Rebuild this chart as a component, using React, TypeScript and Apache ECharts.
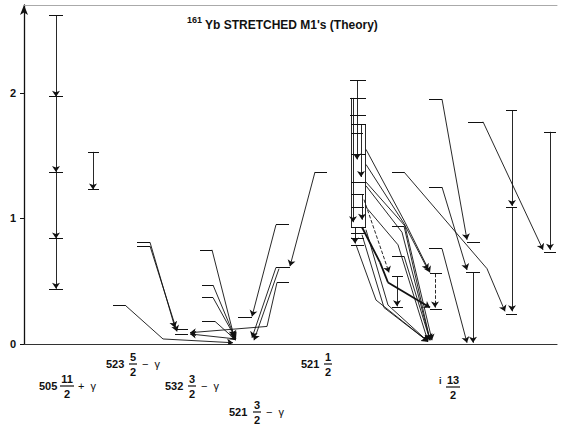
import React, { useEffect, useRef } from 'react';
import * as echarts from 'echarts';

const TITLE_MASS = '161';
const TITLE_TEXT = "Yb STRETCHED M1's (Theory)";
const Y_TICKS = [0, 1, 2];

// level stubs: [xStart, xEnd, M1 strength]
const levelStubs: [number, number, number][] = [
  // 505 11/2 + γ
  [49, 63, 2.62], [49, 63, 1.97], [49, 63, 1.37], [49, 63, 0.84], [49, 63, 0.44],
  [88, 99, 1.53], [88, 99, 1.23],
  // 523 5/2 − γ, 532 3/2 − γ, 521 3/2 − γ
  [113, 125, 0.31], [137, 150, 0.81], [137, 150, 0.78], [175, 188, 0.12], [175, 188, 0.08],
  [200, 212, 0.75], [202, 213, 0.47], [202, 213, 0.37], [202, 215, 0.18],
  [238, 252, 0.21], [276, 289, 0.95], [276, 290, 0.61], [277, 289, 0.49], [315, 327, 1.37],
  // 521 1/2
  [350, 366, 2.10], [350, 366, 1.96], [350, 366, 1.82], [351, 366, 1.75], [351, 363, 1.68],
  [351, 366, 1.51], [351, 366, 1.29], [351, 364, 1.19], [351, 364, 1.09], [351, 366, 0.93],
  [351, 366, 0.88], [351, 364, 0.84], [351, 364, 0.79],
  [392, 404, 1.37], [392, 404, 0.94], [392, 404, 0.70], [392, 403, 0.54], [392, 403, 0.29],
  [430, 442, 0.56], [430, 442, 0.28],
  // i 13/2
  [429, 442, 1.95], [429, 442, 1.25], [429, 442, 0.76], [467, 480, 0.81], [466, 480, 0.57],
  [468, 483, 1.77], [506, 517, 1.86], [506, 517, 1.09], [506, 517, 0.24],
  [544, 556, 1.69], [544, 556, 0.73],
];

// arrowed transitions: polylines of [x, M1 strength]
const transitions: [number, number][][] = [
  [[56, 2.62], [56, 1.97]], [[56, 1.97], [56, 1.37]], [[56, 1.37], [56, 0.84]], [[56, 0.84], [56, 0.44]],
  [[93, 1.53], [93, 1.23]],
  [[125, 0.31], [163, 0.04], [233, 0.01]],
  [[150, 0.81], [175, 0.13]],
  [[150, 0.78], [177, 0.10]],
  [[212, 0.75], [234, 0.06]],
  [[213, 0.47], [235, 0.05]],
  [[213, 0.37], [236, 0.04]],
  [[215, 0.18], [236, 0.03]],
  [[236, 0.04], [190, 0.08]],
  [[276, 0.95], [252, 0.22]],
  [[315, 1.37], [290, 0.62]],
  [[276, 0.61], [252, 0.05]],
  [[279, 0.60], [254, 0.03]],
  [[277, 0.49], [267, 0.14], [190, 0.09]],
  [[357, 2.10], [357, 1.47]],
  [[353, 1.96], [353, 0.97]],
  [[361, 1.75], [361, 1.33]],
  [[362, 1.19], [362, 0.99]],
  [[355, 0.93], [355, 0.80]],
  [[366, 1.55], [405, 0.97], [430, 0.57]],
  [[366, 1.43], [404, 0.96], [428, 0.59]],
  [[366, 1.29], [405, 0.94], [432, 0.03]],
  [[366, 1.26], [402, 0.89], [430, 0.03]],
  [[366, 1.09], [398, 0.79], [428, 0.02]],
  [[366, 0.91], [388, 0.31], [428, 0.02]],
  [[362, 0.87], [384, 0.29], [428, 0.02]],
  [[356, 0.79], [376, 0.35], [428, 0.02]],
  [[397, 0.54], [397, 0.30]],
  [[404, 0.94], [430, 0.03]],
  [[404, 0.70], [430, 0.03]],
  [[404, 1.37], [487, 0.60], [505, 0.26]],
  [[442, 1.95], [467, 0.83]],
  [[442, 1.25], [467, 0.59]],
  [[473, 0.57], [473, 0.01]],
  [[442, 0.76], [467, 0.01]],
  [[512, 1.86], [512, 1.10]],
  [[512, 1.09], [512, 0.26]],
  [[483, 1.77], [543, 0.75]],
  [[550, 1.69], [550, 0.75]],
];
const boldTransitions: [number, number][][] = [
  [[362, 0.93], [380, 0.65], [388, 0.49], [430, 0.29]],
];
const dashedTransitions: [number, number][][] = [
  [[364, 1.15], [389, 0.57]],
  [[435, 0.56], [435, 0.29]],
];
// cluster side rails (no arrows)
const railLines: [number, number][][] = [
  [[351, 1.96], [351, 0.93]],
  [[365, 1.75], [365, 0.93]],
];

// orbital labels
const orbitalNumbers = ['505', '523', '532', '521', '521', 'i'];
const fractionNumerators = ['11', '5', '3', '3', '1', '13'];
const fractionDenominators = ['2', '2', '2', '2', '2', '2'];
const labelSuffixes = ['+  γ', '−  γ', '−  γ', '−  γ', '', ''];

const LABEL_LAYOUT = [
  { nx: 39, fx: 67, tx: 78, y: 386 },
  { nx: 106, fx: 133, tx: 142, y: 364 },
  { nx: 165, fx: 192, tx: 201, y: 386 },
  { nx: 229, fx: 257, tx: 266, y: 412 },
  { nx: 301, fx: 328, tx: 0, y: 364 },
  { nx: 439, fx: 453, tx: 0, y: 387, small: true },
];

const INK = '#111';
const FONT = '"Liberation Sans", Arial, sans-serif';

function splitPaths(paths: [number, number][][]) {
  const body: any[] = [];
  const heads: any[] = [];
  paths.forEach((p) => {
    for (let i = 0; i < p.length - 2; i++) body.push({ coords: [p[i], p[i + 1]] });
    heads.push({ coords: [p[p.length - 2], p[p.length - 1]] });
  });
  return { body, heads };
}

function linesSeries(data: any[], width: number, arrow: boolean, type: string = 'solid') {
  return {
    type: 'lines',
    coordinateSystem: 'cartesian2d',
    polyline: false,
    silent: true,
    symbol: arrow ? ['none', 'arrow'] : ['none', 'none'],
    symbolSize: 6,
    lineStyle: { color: INK, width, type, opacity: 1 },
    data,
    z: 3,
  };
}

export default function App() {
  const ref = useRef<HTMLDivElement>(null);
  useEffect(() => {
    const chart = echarts.init(ref.current!, undefined, { renderer: 'svg' });
    const normal = splitPaths(transitions);
    const bold = splitPaths(boldTransitions);
    const dashed = splitPaths(dashedTransitions);

    const graphics: any[] = [
      {
        type: 'text', x: 187, y: 20,
        style: { text: TITLE_MASS, font: `bold 9px ${FONT}`, fill: INK, verticalAlign: 'middle', textVerticalAlign: 'middle' },
      },
      {
        type: 'text', x: 205, y: 25,
        style: { text: TITLE_TEXT, font: `bold 12px ${FONT}`, fill: INK, verticalAlign: 'middle', textVerticalAlign: 'middle' },
      },
    ];
    orbitalNumbers.forEach((n, i) => {
      const L = LABEL_LAYOUT[i];
      graphics.push({
        type: 'text', x: L.nx, y: L.small ? L.y - 6 : L.y,
        style: { text: n, font: L.small ? `bold 9px ${FONT}` : `bold 11px ${FONT}`, fill: INK, verticalAlign: 'middle', textVerticalAlign: 'middle' },
      });
      const num = fractionNumerators[i];
      const den = fractionDenominators[i];
      const w = Math.max(num.length, den.length) * 6 + 2;
      graphics.push({
        type: 'text', x: L.fx, y: L.y - 7,
        style: { text: num, font: `bold 11px ${FONT}`, fill: INK, align: 'center', textAlign: 'center', verticalAlign: 'middle', textVerticalAlign: 'middle' },
      });
      graphics.push({
        type: 'line',
        shape: { x1: L.fx - w / 2, y1: L.y, x2: L.fx + w / 2, y2: L.y },
        style: { stroke: INK, lineWidth: 1.2 },
      });
      graphics.push({
        type: 'text', x: L.fx, y: L.y + 8,
        style: { text: den, font: `bold 11px ${FONT}`, fill: INK, align: 'center', textAlign: 'center', verticalAlign: 'middle', textVerticalAlign: 'middle' },
      });
      if (labelSuffixes[i]) {
        graphics.push({
          type: 'text', x: L.tx, y: L.y,
          style: { text: labelSuffixes[i], font: `11px ${FONT}`, fill: INK, verticalAlign: 'middle', textVerticalAlign: 'middle' },
        });
      }
    });

    const option: any = {
      animation: false,
      backgroundColor: '#fff',
      grid: { left: 24, right: 7, top: 5, bottom: 81, containLabel: false },
      xAxis: [
        {
          type: 'value', min: 24, max: 557, position: 'bottom',
          axisLine: { show: true, onZero: true, lineStyle: { color: '#333', width: 1.2 } },
          axisTick: { show: false }, axisLabel: { show: false }, splitLine: { show: false },
        },
        {
          type: 'value', min: 24, max: 557, position: 'top',
          axisLine: { show: true, onZero: false, lineStyle: { color: '#aaa', width: 1 } },
          axisTick: { show: false }, axisLabel: { show: false }, splitLine: { show: false },
        },
      ],
      yAxis: {
        type: 'value', min: 0, max: 2.7, interval: 1,
        axisLine: { show: true, symbol: ['none', 'arrow'], symbolSize: [6, 10], lineStyle: { color: INK, width: 1.3 } },
        axisTick: { show: true, length: 4, customValues: Y_TICKS, lineStyle: { color: INK } },
        axisLabel: {
          show: true, customValues: Y_TICKS, margin: 8,
          color: INK, fontWeight: 'bold', fontSize: 11, fontFamily: FONT,
        },
        splitLine: { show: false },
      },
      series: [
        linesSeries(levelStubs.map(([a, b, v]) => ({ coords: [[a, v], [b, v]] })), 1, false),
        linesSeries(railLines.map((p) => ({ coords: p })), 0.9, false),
        linesSeries(normal.body, 0.9, false),
        linesSeries(normal.heads, 0.9, true),
        linesSeries(bold.body, 1.8, false),
        linesSeries(bold.heads, 1.8, true),
        linesSeries(dashed.body, 0.9, false, 'dashed'),
        linesSeries(dashed.heads, 0.9, true, 'dashed'),
      ],
      graphic: graphics,
    };
    chart.setOption(option);
    return () => chart.dispose();
  }, []);
  return (
    <div
      ref={ref}
      style={{ position: 'fixed', left: 0, top: 0, width: 564, height: 425, background: '#fff' }}
    />
  );
}
